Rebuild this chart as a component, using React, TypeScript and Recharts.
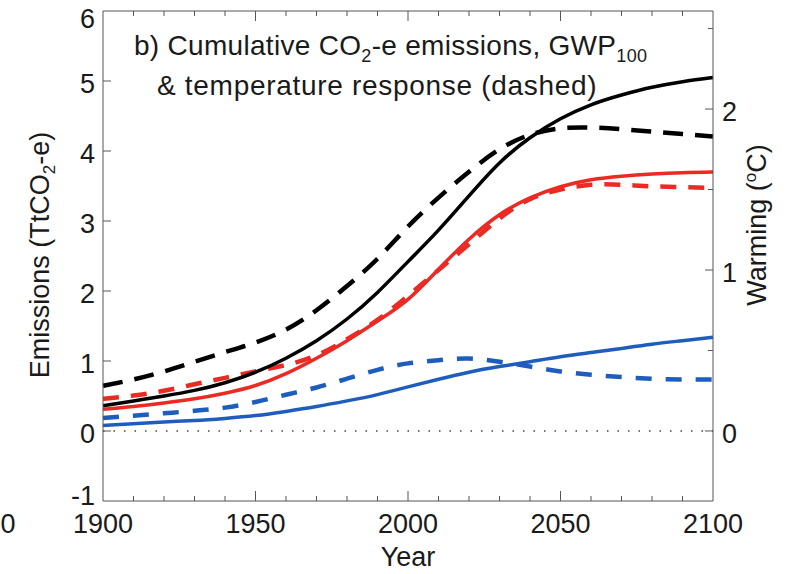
import { LineChart, Line, XAxis, YAxis, ReferenceLine } from 'recharts';

const years = [1900, 1910, 1920, 1930, 1940, 1950, 1960, 1970, 1980, 1990, 2000, 2010, 2020, 2030, 2040, 2050, 2060, 2070, 2080, 2090, 2100];

// cumulative emissions (TtCO2-e), left axis
const blackSolid = [0.36, 0.43, 0.5, 0.58, 0.69, 0.84, 1.04, 1.29, 1.6, 1.98, 2.42, 2.87, 3.36, 3.83, 4.19, 4.46, 4.66, 4.8, 4.91, 4.99, 5.05];
const redSolid = [0.31, 0.35, 0.4, 0.46, 0.54, 0.65, 0.82, 1.04, 1.29, 1.57, 1.88, 2.31, 2.74, 3.09, 3.33, 3.49, 3.59, 3.64, 3.67, 3.69, 3.7];
const blueSolid = [0.08, 0.105, 0.13, 0.15, 0.18, 0.22, 0.28, 0.35, 0.43, 0.52, 0.63, 0.74, 0.84, 0.92, 0.99, 1.06, 1.12, 1.18, 1.24, 1.29, 1.34];

// warming (degC), right axis
const blackDashed = [0.28, 0.32, 0.37, 0.43, 0.49, 0.55, 0.63, 0.75, 0.9, 1.07, 1.27, 1.45, 1.61, 1.75, 1.84, 1.88, 1.885, 1.875, 1.86, 1.845, 1.83];
const redDashed = [0.2, 0.22, 0.25, 0.29, 0.33, 0.37, 0.41, 0.47, 0.57, 0.69, 0.84, 1.0, 1.16, 1.32, 1.44, 1.5, 1.53, 1.53, 1.52, 1.515, 1.51];
const blueDashed = [0.08, 0.095, 0.11, 0.125, 0.145, 0.18, 0.225, 0.27, 0.325, 0.38, 0.42, 0.44, 0.45, 0.43, 0.4, 0.37, 0.35, 0.335, 0.325, 0.32, 0.32];

const leftTicks = [-1, 0, 1, 2, 3, 4, 5, 6];
const rightTicks = [0, 0.5, 1, 1.5, 2, 2.5];
const xTicks = [1900, 1910, 1920, 1930, 1940, 1950, 1960, 1970, 1980, 1990, 2000, 2010, 2020, 2030, 2040, 2050, 2060, 2070, 2080, 2090, 2100];
const xLabels = [1900, 1950, 2000, 2050, 2100];

const data = years.map((year, i) => ({
  year,
  blackSolid: blackSolid[i],
  redSolid: redSolid[i],
  blueSolid: blueSolid[i],
  blackDashed: blackDashed[i],
  redDashed: redDashed[i],
  blueDashed: blueDashed[i],
}));

const FONT = '"Liberation Sans", Arial, Helvetica, sans-serif';
const AXIS = '#555';
const TXT = '#1a1a1a';
const RED = '#ec2a24';
const BLUE = '#1f5dbd';

const LeftTick = (props: any) => {
  const { x, y, payload } = props;
  const v = payload.value;
  const dy = v === 6 ? 7 : v === -1 ? -6 : 2;
  return (
    <g>
      {v > -1 && v < 6 && <line x1={x} x2={x + 8} y1={y} y2={y} stroke={AXIS} strokeWidth={1} />}
      <text x={x - 8} y={y + dy} dy="0.36em" textAnchor="end" fontSize={27} fontFamily={FONT} fill={TXT}>{v}</text>
    </g>
  );
};

const RightTick = (props: any) => {
  const { x, y, payload } = props;
  const v = payload.value;
  const major = Number.isInteger(v);
  return (
    <g>
      <line x1={x} x2={x - (major ? 8 : 5)} y1={y} y2={y} stroke={AXIS} strokeWidth={1} />
      {major && (
        <text x={x + 9} y={y + 2} dy="0.36em" textAnchor="start" fontSize={27} fontFamily={FONT} fill={TXT}>{v}</text>
      )}
    </g>
  );
};

const BottomTick = (props: any) => {
  const { x, y, payload } = props;
  const v = payload.value;
  const major = v % 50 === 0;
  return (
    <g>
      {v > 1900 && v < 2100 && <line x1={x} x2={x} y1={y} y2={y - (major ? 10 : 5)} stroke={AXIS} strokeWidth={1} />}
      {xLabels.includes(v) && (
        <text x={x} y={y + 32} textAnchor="middle" fontSize={27} fontFamily={FONT} fill={TXT}>{v}</text>
      )}
    </g>
  );
};

const TopTick = (props: any) => {
  const { x, y, payload } = props;
  const v = payload.value;
  const major = v % 50 === 0;
  if (v <= 1900 || v >= 2100) return <g />;
  return <line x1={x} x2={x} y1={y} y2={y + (major ? 10 : 5)} stroke={AXIS} strokeWidth={1} />;
};

export default function App() {
  return (
    <div style={{ position: 'absolute', left: 0, top: 0, width: 786, height: 574, background: '#fff' }}>
      <LineChart width={786} height={574} data={data} margin={{ top: 0, right: 0, bottom: 0, left: 0 }}>
        <XAxis xAxisId="b" dataKey="year" type="number" domain={[1900, 2100]} ticks={xTicks} interval={0}
          height={73} tickSize={0} tickMargin={0} tickLine={false} axisLine={{ stroke: AXIS }} tick={BottomTick} />
        <XAxis xAxisId="t" orientation="top" dataKey="year" type="number" domain={[1900, 2100]} ticks={xTicks} interval={0}
          height={11} tickSize={0} tickMargin={0} tickLine={false} axisLine={{ stroke: AXIS }} tick={TopTick} />
        <YAxis yAxisId="l" domain={[-1, 6]} ticks={leftTicks} interval={0} width={103}
          tickSize={0} tickMargin={0} tickLine={false} axisLine={{ stroke: AXIS }} tick={LeftTick} />
        <YAxis yAxisId="r" orientation="right" domain={[-0.435, 2.609]} ticks={rightTicks} interval={0} width={73}
          tickSize={0} tickMargin={0} tickLine={false} axisLine={{ stroke: AXIS }} tick={RightTick} />
        <ReferenceLine xAxisId="b" yAxisId="l" y={0} stroke="#444" strokeWidth={1.5} strokeDasharray="1.5 9" />
        <Line xAxisId="b" yAxisId="l" dataKey="blueSolid" type="natural" stroke={BLUE} strokeWidth={3.5} dot={false} isAnimationActive={false} />
        <Line xAxisId="b" yAxisId="r" dataKey="blueDashed" type="natural" stroke={BLUE} strokeWidth={4.5} strokeDasharray="16 14" dot={false} isAnimationActive={false} />
        <Line xAxisId="b" yAxisId="l" dataKey="redSolid" type="natural" stroke={RED} strokeWidth={3.5} dot={false} isAnimationActive={false} />
        <Line xAxisId="b" yAxisId="r" dataKey="redDashed" type="natural" stroke={RED} strokeWidth={4.5} strokeDasharray="16 12" dot={false} isAnimationActive={false} />
        <Line xAxisId="b" yAxisId="l" dataKey="blackSolid" type="natural" stroke="#000" strokeWidth={3.5} dot={false} isAnimationActive={false} />
        <Line xAxisId="b" yAxisId="r" dataKey="blackDashed" type="natural" stroke="#000" strokeWidth={4.5} strokeDasharray="20 12" dot={false} isAnimationActive={false} />
      </LineChart>
      <svg width={786} height={574} style={{ position: 'absolute', left: 0, top: 0, pointerEvents: 'none' }}>
        <g fontFamily={FONT} fill={TXT}>
          <text x={134} y={55} fontSize={28} letterSpacing={0.3}>
            b) Cumulative CO<tspan dy={7} fontSize={18}>2</tspan><tspan dy={-7}>-e emissions, GWP</tspan><tspan dy={7} fontSize={18}>100</tspan>
          </text>
          <text x={157} y={95} fontSize={28} letterSpacing={0.7}>&amp; temperature response (dashed)</text>
          <text x={408} y={566} fontSize={27} textAnchor="middle">Year</text>
          <text x={0} y={0} fontSize={27} textAnchor="middle" transform="translate(49 255) rotate(-90)">
            Emissions (TtCO<tspan dy={6} fontSize={17}>2</tspan><tspan dy={-6}>-e)</tspan>
          </text>
          <text x={0} y={0} fontSize={27} textAnchor="middle" transform="translate(766 225) rotate(-90)">
            Warming (<tspan dy={-10} fontSize={17}>o</tspan><tspan dy={10}>C)</tspan>
          </text>
          <text x={8} y={533} fontSize={27} textAnchor="middle">0</text>
        </g>
      </svg>
    </div>
  );
}
